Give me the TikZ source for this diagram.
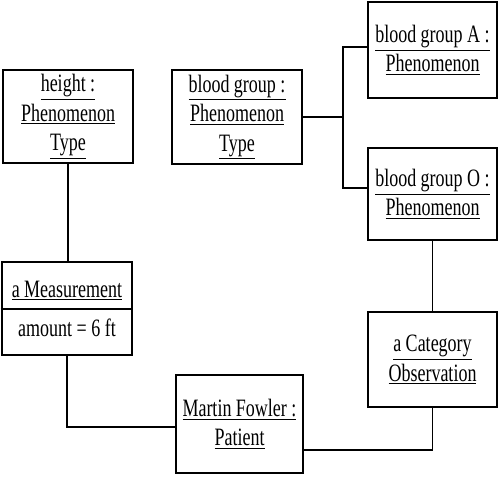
\documentclass[tikz,border=0pt]{standalone}
\usepackage{fontspec}
\setmainfont{Liberation Serif}[FakeStretch=0.72]
\newcommand\ulbox[1]{\vtop{\hbox{#1}\kern1.8bp\hrule height 0.9bp}}
\begin{document}
\begin{tikzpicture}[x=1bp,y=-1bp,
  obj/.style={draw,line width=2.6bp,align=center,inner sep=0pt,
    font=\fontsize{25bp}{29.5bp}\selectfont},
  txt/.style={inner sep=0pt,font=\fontsize{25bp}{29.5bp}\selectfont},
  link/.style={line width=1.6bp}]
\useasboundingbox (0,0) rectangle (500,478);
\node[obj,minimum width=130bp,minimum height=93bp] (height) at (68,116.5)
  {\ulbox{height :}\\\ulbox{Phenomenon}\\\ulbox{Type}};
\node[obj,minimum width=130bp,minimum height=94bp] (bg) at (237,117)
  {\ulbox{blood group :}\\\ulbox{Phenomenon}\\\ulbox{Type}};
\node[obj,minimum width=129bp,minimum height=96bp] (bgA) at (432.5,50)
  {\ulbox{blood group A :}\\\ulbox{Phenomenon}};
\node[obj,minimum width=129bp,minimum height=92bp] (bgO) at (432.5,194)
  {\ulbox{blood group O :}\\\ulbox{Phenomenon}};
\node[obj,minimum width=130bp,minimum height=93bp] (meas) at (67,308.5) {};
\node[txt,anchor=base] (meastitle) at (67,297) {\ulbox{a Measurement}};
\node[txt,anchor=base] (measattr) at (67,336) {amount = 6 ft};
\coordinate (div) at (67,309);
\draw[line width=2.6bp] (meas.west |- div) -- (meas.east |- div);
\node[obj,minimum width=127bp,minimum height=98bp] (martin) at (239.5,424)
  {\ulbox{Martin Fowler :}\\\ulbox{Patient}};
\node[obj,minimum width=129bp,minimum height=95bp] (cat) at (432.5,359.5)
  {\ulbox{a Category}\\\ulbox{Observation}};
\coordinate (j) at (343,117);
\draw[link] (height.south) -- (height.south |- meas.north);
\draw[link] (bg.east) -- (j);
\draw[link] (j) |- ([yshift=3bp]bgA.west);
\draw[link] (j) |- ([yshift=6bp]bgO.west);
\draw[link] (bgO.south) -- (cat.north);
\draw[link] (meas.south) |- ([yshift=-3bp]martin.west);
\draw[link] (cat.south) |- ([yshift=-26bp]martin.east);
\end{tikzpicture}
\end{document}
